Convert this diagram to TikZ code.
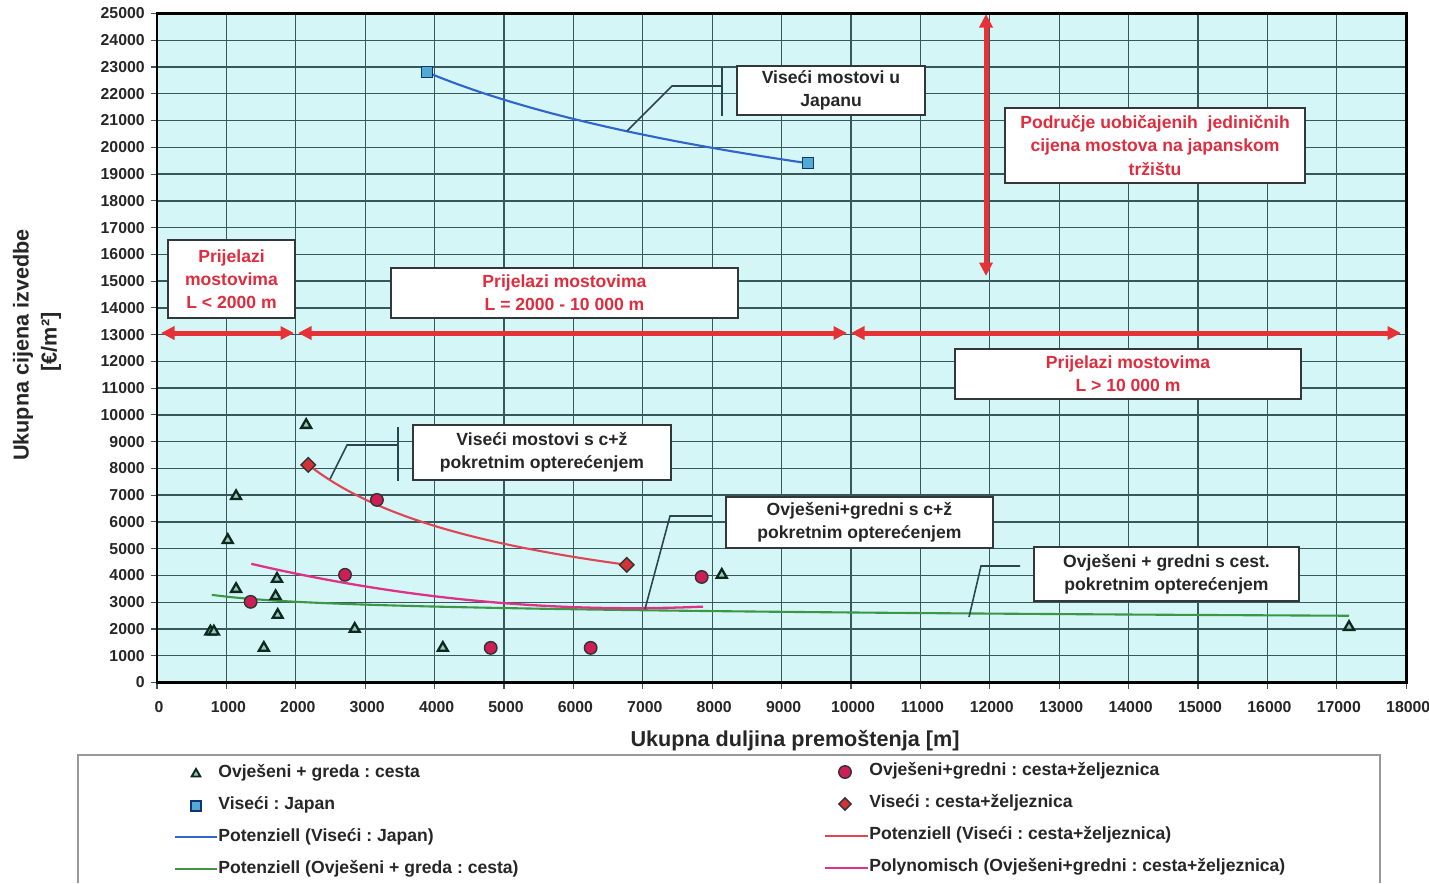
\documentclass[tikz,border=0pt]{standalone}
\usepackage{fontspec}
\setmainfont{Liberation Sans}
\usetikzlibrary{shapes.geometric,arrows.meta}
\frenchspacing
\definecolor{plotbg}{RGB}{212,246,246}
\definecolor{gridc}{RGB}{55,88,90}
\definecolor{annred}{RGB}{230,50,55}
\definecolor{txtred}{RGB}{222,45,62}
\definecolor{jblue}{RGB}{50,100,205}
\definecolor{sqfill}{RGB}{80,170,210}
\definecolor{sqdraw}{RGB}{20,50,120}
\definecolor{crvred}{RGB}{222,70,85}
\definecolor{crvmag}{RGB}{220,50,135}
\definecolor{crvgreen}{RGB}{60,150,70}
\definecolor{circfill}{RGB}{205,30,85}
\definecolor{diafill}{RGB}{212,50,55}
\definecolor{trifill}{RGB}{150,200,190}
\definecolor{tridraw}{RGB}{15,40,30}
\definecolor{leaderc}{RGB}{40,70,80}
\definecolor{boxdraw}{RGB}{50,55,60}
\tikzset{
  tri/.style={regular polygon, regular polygon sides=3, draw=tridraw, fill=trifill, line width=1.3pt, minimum size=0.23cm, inner sep=0pt},
  sqm/.style={rectangle, draw=sqdraw, fill=sqfill, line width=0.9pt, minimum size=0.22cm, inner sep=0pt},
  circm/.style={circle, draw=black!80, fill=circfill, line width=0.8pt, minimum size=0.25cm, inner sep=0pt},
  diam/.style={diamond, draw=black!80, fill=diafill, line width=0.8pt, minimum size=0.3cm, inner sep=0pt},
  redarrow/.style={draw=annred, line width=0.1cm, {Triangle[length=0.27cm,width=0.26cm]}-{Triangle[length=0.27cm,width=0.26cm]}},
  redbox/.style={draw=boxdraw, fill=white, line width=0.8pt, text=txtred, align=center, font=\bfseries\fontsize{10}{13.2}\selectfont, inner sep=0pt},
  blackbox/.style={draw=boxdraw, fill=white, line width=0.8pt, text=black!85, align=center, font=\bfseries\fontsize{10}{13.2}\selectfont, inner sep=0pt},
  leader/.style={draw=leaderc, line width=0.9pt},
  legtext/.style={anchor=west, font=\bfseries\fontsize{10}{12}\selectfont, text=black!85, inner sep=0pt},
  ticklab/.style={font=\bfseries\fontsize{9}{10}\selectfont, text=black!85, inner sep=0pt},
  axtitle/.style={font=\bfseries\fontsize{12.3}{14}\selectfont, text=black!85, inner sep=0pt},
}
\begin{document}
\begin{tikzpicture}[x=0.02cm,y=-0.02cm]
\useasboundingbox (0,0) rectangle (1429,883);
\fill[white] (0,0) rectangle (1429,883);
% plot area
\fill[plotbg] (157,13.5) rectangle (1406,682.5);
\foreach \i in {1,...,17} \draw[gridc, line width=0.65pt] ({157+69.4*\i},13.5) -- ({157+69.4*\i},682.5);
\foreach \j in {1,...,24} \draw[gridc, line width=0.8pt] (157,{682.5-26.76*\j}) -- (1406,{682.5-26.76*\j});
% ticks and tick labels
\foreach \j in {0,...,25} {
  \draw[gridc, line width=0.6pt] (151,{682.5-26.76*\j}) -- (157,{682.5-26.76*\j});
  \node[ticklab, anchor=east] (yl\j) at (145,{682.5-26.76*\j}) {\the\numexpr\j*1000\relax};
}
\foreach \i in {0,...,18} {
  \draw[gridc, line width=0.6pt] ({157+69.4*\i},682.5) -- ({157+69.4*\i},689);
  \node[ticklab] (xl\i) at ({159+69.4*\i},707) {\the\numexpr\i*1000\relax};
}
% axis titles
\node[axtitle] (xtitle) at (795,741) {Ukupna duljina premoštenja [m]};
\node[axtitle, rotate=90] (ytitle1) at (23,345) {Ukupna cijena izvedbe};
\node[axtitle, rotate=90] (ytitle2) at (51,342) {[€/m²]};
% red range arrows
\coordinate (a1l) at (161,333); \coordinate (a1r) at (294,333);
\coordinate (a2l) at (298,333); \coordinate (a2r) at (847,333);
\coordinate (a3l) at (851,333); \coordinate (a3r) at (1401,333);
\coordinate (avt) at (986,14); \coordinate (avb) at (986,276);
\draw[redarrow] (a1l) -- (a1r);
\draw[redarrow] (a2l) -- (a2r);
\draw[redarrow] (a3l) -- (a3r);
\draw[redarrow] (avt) -- (avb);
% data
\begin{scope}[shift={(3.14cm,-13.65cm)}, x=1.388cm, y=0.5352cm]
  \draw[crvgreen, line width=1.2pt] plot[domain=0.79:17.18, samples=60] (\x, {3.27*exp(-0.0885*ln(\x/0.79))});
  \draw[crvmag, line width=1.3pt] plot[domain=1.36:7.87, samples=50] (\x, {0.05498*\x*\x - 0.7532*\x + 5.353});
  \draw[crvred, line width=1.2pt] plot[domain=2.18:6.77, samples=50] (\x, {8.13*exp(-0.543*ln(\x/2.18))});
  \draw[jblue, line width=1.2pt] plot[domain=3.89:9.38, samples=50] (\x, {22.8*exp(-0.1835*ln(\x/3.89))});
  \node[sqm] (s1) at (3.89,22.81) {};
  \node[sqm] (s2) at (9.38,19.41) {};
  \node[tri] (t1) at (2.15,9.62) {};
  \node[tri] (t2) at (1.14,6.96) {};
  \node[tri] (t3) at (1.02,5.32) {};
  \node[tri] (t4) at (1.14,3.49) {};
  \node[tri] (t5) at (1.73,3.87) {};
  \node[tri] (t6) at (1.71,3.22) {};
  \node[tri] (t7) at (1.74,2.52) {};
  \node[tri] (t8) at (0.77,1.9) {};
  \node[tri] (t9) at (0.82,1.9) {};
  \node[tri] (t10) at (1.54,1.29) {};
  \node[tri] (t11) at (2.85,2.0) {};
  \node[tri] (t12) at (4.12,1.29) {};
  \node[tri] (t13) at (8.14,4.02) {};
  \node[tri] (t14) at (17.18,2.07) {};
  \node[circm] (c1) at (1.35,3.01) {};
  \node[circm] (c2) at (2.71,4.02) {};
  \node[circm] (c3) at (3.17,6.82) {};
  \node[circm] (c4) at (4.81,1.29) {};
  \node[circm] (c5) at (6.25,1.29) {};
  \node[circm] (c6) at (7.85,3.94) {};
  \node[diam] (d1) at (2.18,8.13) {};
  \node[diam] (d2) at (6.77,4.39) {};
\end{scope}
% label boxes
\node[redbox, minimum width=2.54cm, minimum height=1.56cm] (bl2000) at (231.5,279) {Prijelazi\\mostovima\\L < 2000 m};
\node[redbox, minimum width=6.94cm, minimum height=1.0cm] (bl10000) at (564.5,293) {Prijelazi mostovima\\L = 2000 - 10 000 m};
\node[redbox, minimum width=6.92cm, minimum height=1.0cm] (bg10000) at (1128,374) {Prijelazi mostovima\\L > 10 000 m};
\node[redbox, minimum width=6.0cm, minimum height=1.5cm] (bjp) at (1155,145.5) {Područje uobičajenih\ \ jediničnih\\cijena mostova na japanskom\\tržištu};
\node[blackbox, minimum width=3.76cm, minimum height=0.98cm] (bjap) at (831,90.5) {Viseći mostovi u\\Japanu};
\node[blackbox, minimum width=5.16cm, minimum height=1.1cm] (bvcz) at (542,452.5) {Viseći mostovi s c+ž\\pokretnim opterećenjem};
\node[blackbox, minimum width=5.34cm, minimum height=1.02cm] (bocz) at (859.5,522.5) {Ovješeni+gredni s c+ž\\pokretnim opterećenjem};
\node[blackbox, minimum width=5.3cm, minimum height=1.08cm] (bces) at (1166.5,574) {Ovješeni + gredni s cest.\\pokretnim opterećenjem};
% leaders
\coordinate (lj1) at (627,131); \coordinate (lj2) at (672,86); \coordinate (lj3) at (722,86);
\coordinate (lj4) at (722,67); \coordinate (lj5) at (722,116);
\draw[leader] (lj1) -- (lj2) -- (lj3); \draw[leader] (lj4) -- (lj5);
\coordinate (lv1) at (330,479); \coordinate (lv2) at (347,445); \coordinate (lv3) at (398,445);
\coordinate (lv4) at (398,427); \coordinate (lv5) at (398,481);
\draw[leader] (lv1) -- (lv2) -- (lv3); \draw[leader] (lv4) -- (lv5);
\coordinate (lo1) at (645,609); \coordinate (lo2) at (670,516); \coordinate (lo3) at (712,516);
\draw[leader] (lo1) -- (lo2) -- (lo3);
\coordinate (lc1) at (969,617); \coordinate (lc2) at (981,566); \coordinate (lc3) at (1020,566);
\draw[leader] (lc1) -- (lc2) -- (lc3);
% frame
\draw[black, line width=1.7pt] (157,13.5) rectangle (1406,682.5);
% legend
\draw[black!40, line width=0.8pt] (78,883) -- (78,755) -- (1380,755) -- (1380,883);
\node[tri, minimum size=0.2cm, line width=1.1pt] (lgt) at (196,774) {};
\node[legtext] (lgt-t) at (218,773) {Ovješeni + greda : cesta};
\node[sqm, minimum size=0.2cm] (lgs) at (196,806) {};
\node[legtext] (lgs-t) at (218,805) {Viseći : Japan};
\coordinate (lgb1) at (175,837); \coordinate (lgb2) at (217,837);
\draw[jblue, line width=1.1pt] (lgb1) -- (lgb2);
\node[legtext] (lgb-t) at (218,837) {Potenziell (Viseći : Japan)};
\coordinate (lgg1) at (175,869); \coordinate (lgg2) at (217,869);
\draw[crvgreen, line width=1.1pt] (lgg1) -- (lgg2);
\node[legtext] (lgg-t) at (218,869) {Potenziell (Ovješeni + greda : cesta)};
\node[circm] (lgc) at (845,772) {};
\node[legtext] (lgc-t) at (869,771) {Ovješeni+gredni : cesta+željeznica};
\node[diam, minimum size=0.26cm] (lgd) at (845,804) {};
\node[legtext] (lgd-t) at (869,803) {Viseći : cesta+željeznica};
\coordinate (lgr1) at (825,836); \coordinate (lgr2) at (868,836);
\draw[crvred, line width=1.1pt] (lgr1) -- (lgr2);
\node[legtext] (lgr-t) at (869,835) {Potenziell (Viseći : cesta+željeznica)};
\coordinate (lgm1) at (825,868); \coordinate (lgm2) at (868,868);
\draw[crvmag, line width=1.3pt] (lgm1) -- (lgm2);
\node[legtext] (lgm-t) at (869,867) {Polynomisch (Ovješeni+gredni : cesta+željeznica)};
\end{tikzpicture}
\end{document}
